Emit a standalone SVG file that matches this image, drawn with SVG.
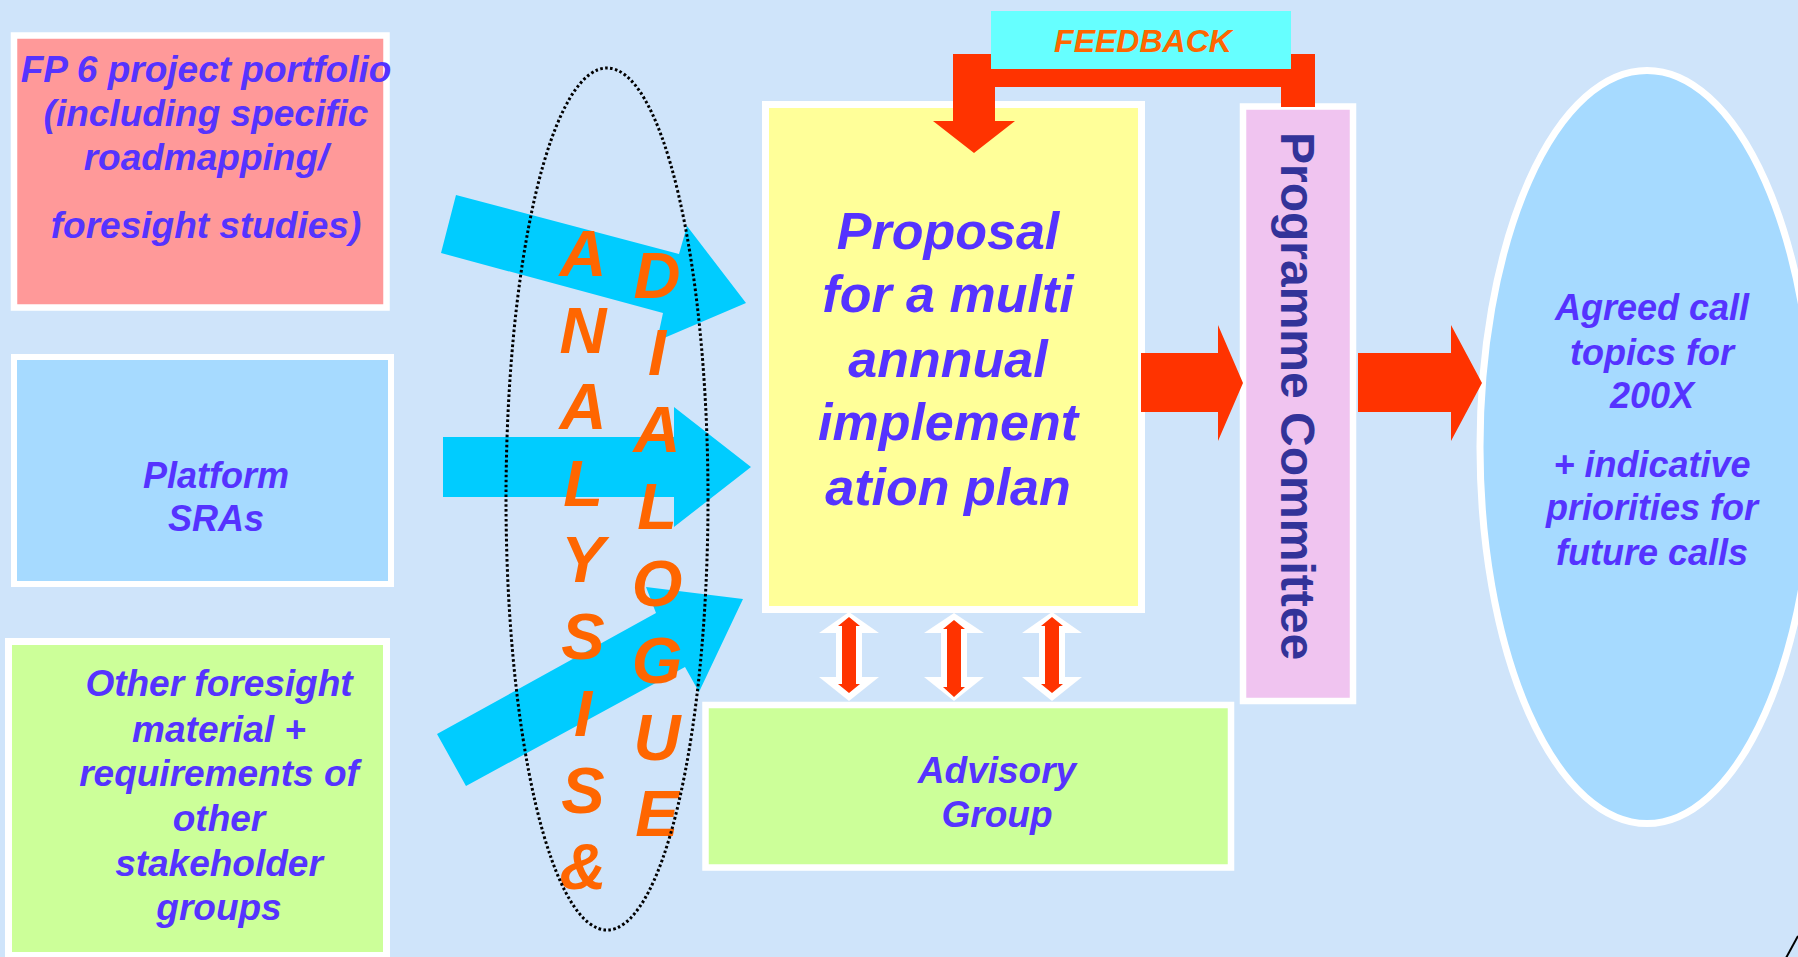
<svg xmlns="http://www.w3.org/2000/svg" width="1798" height="957" viewBox="0 0 1798 957">
<style>
.t{font-family:"Liberation Sans",Arial,sans-serif;font-weight:bold;font-style:italic;fill:#5533FF;text-anchor:middle}
.o{font-family:"Liberation Sans",Arial,sans-serif;font-weight:bold;font-style:italic;fill:#FF6600;text-anchor:middle}
.box{stroke:#FFFFFF}
.red{fill:#FF3300}
.cyan{fill:#00CCFF}
.wh{fill:#FFFFFF}
</style>
<rect x="0" y="0" width="1798" height="957" fill="#CFE4FA"/>

<g id="fp6">
  <rect class="box" x="14" y="35.5" width="372.5" height="272" fill="#FF9999" stroke-width="6.5"/>
  <text class="t" font-size="37" x="206" y="82">FP 6 project portfolio</text>
  <text class="t" font-size="37" x="206" y="126">(including specific</text>
  <text class="t" font-size="37" x="206" y="170">roadmapping/</text>
  <text class="t" font-size="37" x="206" y="238">foresight studies)</text>
</g>

<g id="platform">
  <rect class="box" x="14" y="357" width="377" height="227" fill="#A6DAFF" stroke-width="6"/>
  <text class="t" font-size="36" x="216" y="488">Platform</text>
  <text class="t" font-size="36" x="216" y="531">SRAs</text>
</g>

<g id="other">
  <rect class="box" x="8.5" y="641.5" width="378" height="314" fill="#CCFF99" stroke-width="7"/>
  <text class="t" font-size="37" x="219" y="696">Other foresight</text>
  <text class="t" font-size="37" x="219" y="742">material +</text>
  <text class="t" font-size="37" x="219" y="786">requirements of</text>
  <text class="t" font-size="37" x="219" y="831">other</text>
  <text class="t" font-size="37" x="219" y="876">stakeholder</text>
  <text class="t" font-size="37" x="219" y="920">groups</text>
</g>

<g id="proposal">
  <rect class="box" x="765.5" y="104.5" width="376" height="505" fill="#FFFF99" stroke-width="7"/>
  <text class="t" font-size="52" x="948" y="249">Proposal</text>
  <text class="t" font-size="52" x="948" y="312">for a multi</text>
  <text class="t" font-size="52" x="948" y="377">annnual</text>
  <text class="t" font-size="52" x="948" y="440">implement</text>
  <text class="t" font-size="52" x="948" y="505">ation plan</text>
</g>

<g id="committee">
  <rect class="box" x="1243" y="106.5" width="110" height="594.5" fill="#F0C4F0" stroke-width="6.5"/>
  <text transform="translate(1281,396) rotate(90)" x="0" y="0" font-family="'Liberation Sans',Arial,sans-serif" font-weight="bold" font-size="48" fill="#333399" text-anchor="middle">Programme Committee</text>
</g>

<g id="advisory">
  <rect class="box" x="705.5" y="705" width="525.5" height="162.5" fill="#CCFF99" stroke-width="6.5"/>
  <text class="t" font-size="37" x="997" y="783">Advisory</text>
  <text class="t" font-size="37" x="997" y="827">Group</text>
</g>

<g id="topics">
  <ellipse class="box" cx="1647" cy="447" rx="167" ry="376.5" fill="#A6DAFF" stroke-width="7"/>
  <text class="t" font-size="36" x="1652" y="320">Agreed call</text>
  <text class="t" font-size="36" x="1652" y="365">topics for</text>
  <text class="t" font-size="36" x="1652" y="408">200X</text>
  <text class="t" font-size="36" x="1652" y="477">+ indicative</text>
  <text class="t" font-size="36" x="1652" y="520">priorities for</text>
  <text class="t" font-size="36" x="1652" y="565">future calls</text>
</g>

<g id="connectors">
  <g id="cyan-arrows">
    <polygon class="cyan" points="456,195 679,254 687,226 746,303 657,341 663,313 441,253"/>
    <polygon class="cyan" points="443,437 674,437 674,407 751,467 674,527 674,497 443,497"/>
    <polygon class="cyan" points="437,734 656,613 646,587 743,599 699,692 685,667 466,786"/>
  </g>
  <polygon id="feedback-arrow" class="red" points="953,54 1315,54 1315,107 1281,107 1281,87 995,87 995,121 1015,121 974,153 933,121 953,121"/>
  <polygon id="arrow-proposal-committee" class="red" points="1141,353 1218,353 1218,325 1243,383 1218,441 1218,412 1141,412"/>
  <polygon id="arrow-committee-topics" class="red" points="1358,353 1451,353 1451,325 1482,383 1451,441 1451,412 1358,412"/>
  <g id="double-arrows">
    <g transform="translate(849,0)">
      <polygon class="wh" points="0,612 30,633 13,633 13,677 30,677 0,701 -30,677 -13,677 -13,633 -30,633"/>
      <polygon class="red" points="0,617 11,626 7,626 7,684 11,684 0,693 -11,684 -7,684 -7,626 -11,626"/>
    </g>
    <g transform="translate(954,0)">
      <polygon class="wh" points="0,613 30,633 13,633 13,677 30,677 0,701 -30,677 -13,677 -13,633 -30,633"/>
      <polygon class="red" points="0,620 11,629 7,629 7,687 11,687 0,697 -11,687 -7,687 -7,629 -11,629"/>
    </g>
    <g transform="translate(1052,0)">
      <polygon class="wh" points="0,612 30,633 13,633 13,677 30,677 0,701 -30,677 -13,677 -13,633 -30,633"/>
      <polygon class="red" points="0,617 11,626 7,626 7,684 11,684 0,693 -11,684 -7,684 -7,626 -11,626"/>
    </g>
  </g>
</g>

<g id="feedback">
  <rect x="991" y="11" width="300" height="58" fill="#66FFFF"/>
  <text class="o" font-size="32" x="1143" y="52">FEEDBACK</text>
</g>

<g id="analysis-dialogue">
  <g class="o" font-size="65">
    <text x="583" y="276">A</text>
    <text x="583" y="353">N</text>
    <text x="583" y="429">A</text>
    <text x="583" y="506">L</text>
    <text x="583" y="582">Y</text>
    <text x="583" y="659">S</text>
    <text x="583" y="736">I</text>
    <text x="583" y="813">S</text>
    <text x="583" y="889">&amp;</text>
    <text x="657" y="298">D</text>
    <text x="657" y="375">I</text>
    <text x="657" y="452">A</text>
    <text x="657" y="529">L</text>
    <text x="657" y="606">O</text>
    <text x="657" y="683">G</text>
    <text x="657" y="760">U</text>
    <text x="657" y="836">E</text>
  </g>
  <ellipse cx="607" cy="499" rx="101" ry="431" fill="none" stroke="#000000" stroke-width="3" stroke-dasharray="2.6 2.4"/>
</g>

<path d="M1786,958 L1798,936" stroke="#000000" stroke-width="2" fill="none"/>
</svg>
